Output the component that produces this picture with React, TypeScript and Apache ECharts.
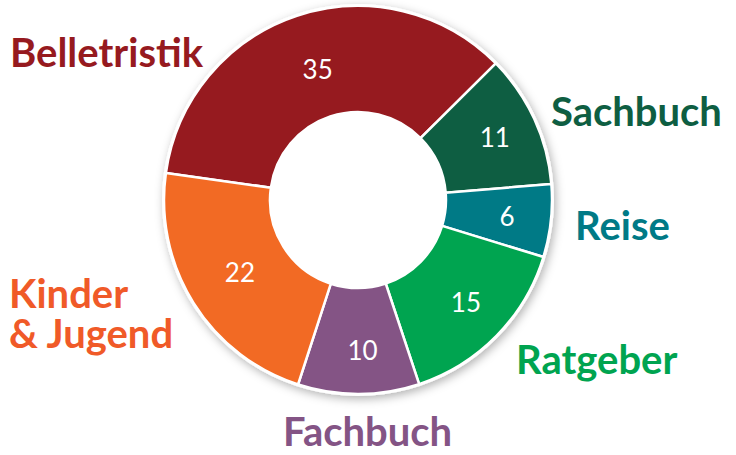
import React, { useEffect, useRef } from "react";
import * as echarts from "echarts";

const categories = ["Belletristik", "Sachbuch", "Reise", "Ratgeber", "Fachbuch", "Kinder\n& Jugend"];
const values = [35, 11, 6, 15, 10, 22];
const colors = ["#961a1f", "#0e5e42", "#007a86", "#00a450", "#845485", "#f26a24"];
const labelColors = ["#961a1f", "#0e5e42", "#007a86", "#00a450", "#845485", "#f05a28"];
// top-left anchor for each outer category label
const labelPos: [number, number][] = [
  [10, 32],
  [551, 91],
  [575, 205],
  [516, 339],
  [283, 411],
  [9, 273],
];
// fine offsets of the value labels inside the ring
const valueOffset: [number, number][] = [
  [5, 6],
  [6, -3],
  [6, 0],
  [5, 1],
  [4, 6],
  [4, -4],
];

export default function App() {
  const ref = useRef<HTMLDivElement>(null);
  useEffect(() => {
    if (!ref.current) return;
    document.body.style.margin = "0";
    const chart = echarts.init(ref.current, null, { renderer: "svg" });
    chart.setOption({
      animation: false,
      backgroundColor: "#ffffff",
      series: [
        {
          type: "pie",
          center: [358, 200],
          radius: [0, 196],
          silent: true,
          label: { show: false },
          labelLine: { show: false },
          data: [{ value: 1, itemStyle: { color: "#ffffff", shadowBlur: 10, shadowColor: "rgba(0,0,0,0.3)", shadowOffsetX: 2, shadowOffsetY: 3 } }],
        },
        {
          type: "pie",
          center: [358, 200],
          radius: [88, 194],
          startAngle: 172,
          clockwise: true,
          avoidLabelOverlap: false,
          itemStyle: { borderColor: "#ffffff", borderWidth: 2.5 },
          label: {
            show: true,
            position: "inside",
            formatter: "{c}",
            color: "#ffffff",
            fontFamily: "Lato",
            fontSize: 26,
            fontWeight: "normal",
          },
          labelLine: { show: false },
          data: values.map((v, i) => ({
            value: v,
            name: categories[i],
            itemStyle: { color: colors[i] },
            label: { offset: valueOffset[i] },
          })),
        },
      ],
      graphic: categories.map((c, i) => ({
        type: "text",
        x: labelPos[i][0],
        y: labelPos[i][1],
        style: {
          text: c,
          fill: labelColors[i],
          font: "bold 40px Lato",
          lineHeight: 40,
          textAlign: "left",
          textVerticalAlign: "top",
        },
      })),
    });
    return () => chart.dispose();
  }, []);
  return <div ref={ref} style={{ width: 736, height: 455 }} />;
}
